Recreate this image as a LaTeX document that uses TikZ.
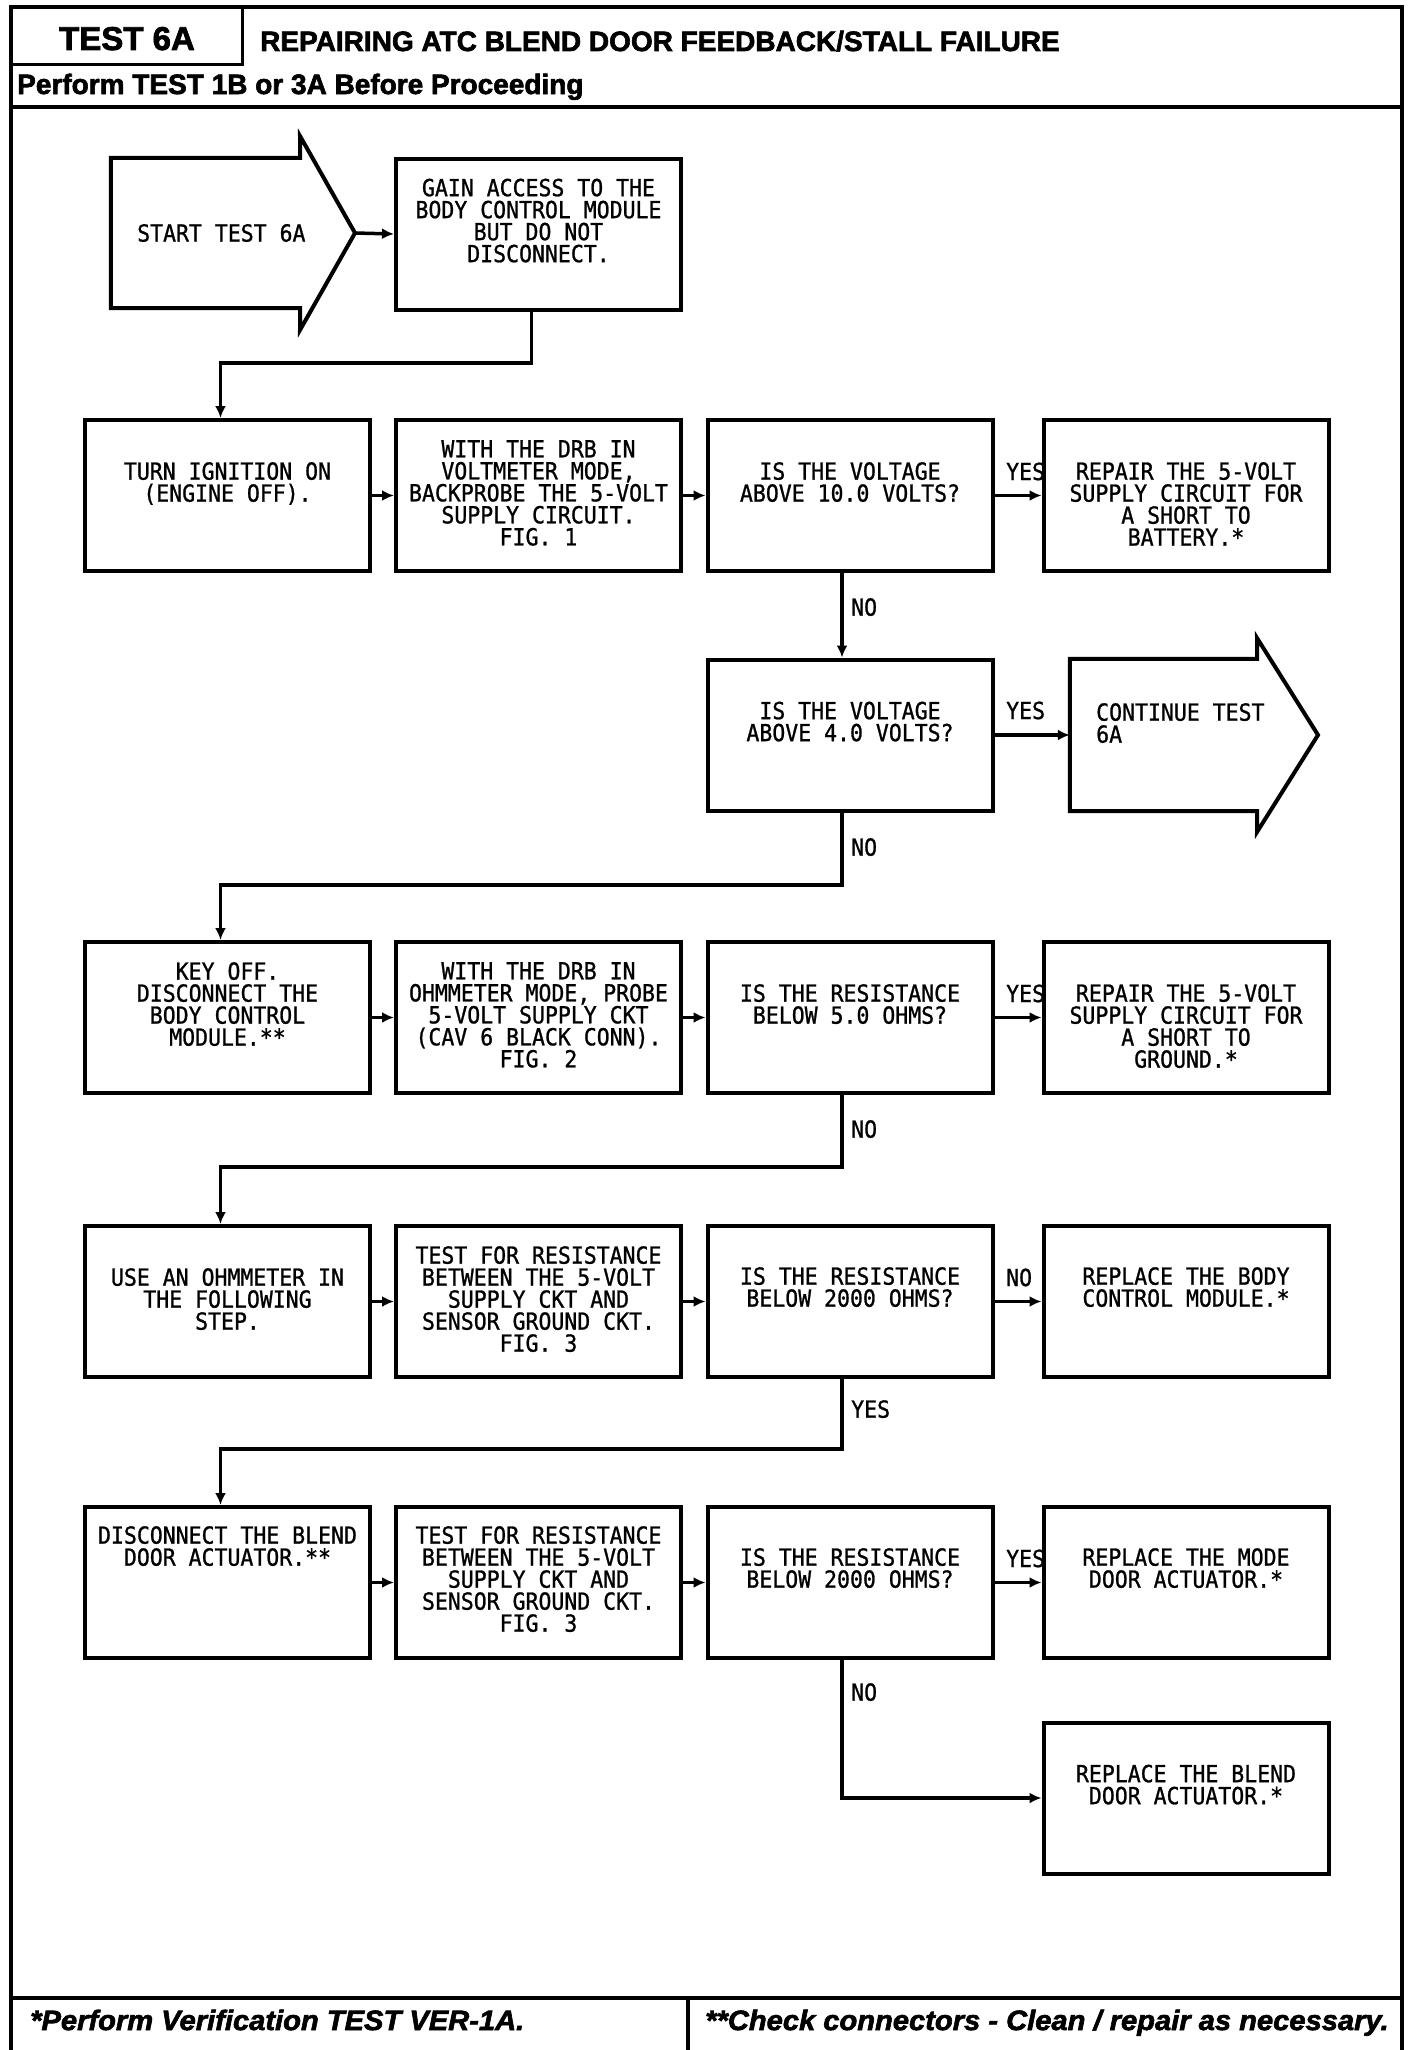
\documentclass[tikz,border=0pt]{standalone}
\usepackage{fontspec}
\usepackage{graphicx}
\usetikzlibrary{arrows.meta}
\newfontfamily\boxfont[FakeStretch=0.915,FakeBold=1]{DejaVu Sans Mono}
\newfontfamily\hdrfont[FakeStretch=1.0,FakeBold=2.2]{Liberation Sans}
\newfontfamily\ftrfont[FakeStretch=1.04,FakeBold=2.2]{Liberation Sans}
\newcommand\bxf{\boxfont\fontsize{23.5}{22}\selectfont}
\newcommand\hdf{\hdrfont\bfseries\fontsize{28}{32}\selectfont}
\newcommand\ftf{\ftrfont\bfseries\itshape\fontsize{28}{32}\selectfont}
\tikzset{
  box/.style={draw, line width=4pt, minimum width=285pt, minimum height=151pt, inner sep=0pt},
  body/.style={inner sep=0pt},
  txt/.style={font=\bxf, align=center, inner sep=0pt, anchor=north},
  lbl/.style={font=\bxf, inner sep=0pt},
  hdr/.style={font=\hdf, inner sep=0pt},
  ftr/.style={font=\ftf, inner sep=0pt},
  conn/.style={line width=3.5pt, -{Latex[length=12pt,width=11pt]}},
  shapeline/.style={line width=4pt, line join=miter},
  frameline/.style={line width=3.5pt}
}
\begin{document}
\begin{tikzpicture}[x=1pt,y=-1pt]
\useasboundingbox (0,0) rectangle (1424,2050);
% frame
\draw[frameline] (11,2052) -- (11,7) -- (1402,7) -- (1402,2052);
\draw[line width=3pt] (11,65) -- (242,65) -- (242,7);
\draw[line width=4.5pt] (11,107) -- (1402,107);
\draw[line width=4.5pt] (11,1998) -- (1402,1998);
\draw[frameline] (688,1998) -- (688,2052);
% header / footer texts
\node[hdr, anchor=base] (t6a) at (127,50) {\fontsize{33}{36}\selectfont TEST 6A};
\node[hdr, anchor=base west] (ttl) at (260,51) {REPAIRING ATC BLEND DOOR FEEDBACK/STALL FAILURE};
\node[hdr, anchor=base west] (pre) at (17,94) {Perform TEST 1B or 3A Before Proceeding};
\node[ftr, anchor=base west] (f1) at (30,2030) {*Perform Verification TEST VER-1A.};
\node[ftr, anchor=base west] (f2) at (705,2030) {**Check connectors - Clean / repair as necessary.};

% start arrow
\node[body, minimum width=189pt, minimum height=150pt] (start) at (205.5,233) {};
\coordinate (stip) at (355,233);
\draw[shapeline] (start.north west) -- (start.north east) -- (300,136) -- (stip) -- (300,330) -- (start.south east) -- (start.south west) -- cycle;
\node[lbl, anchor=west] (starttxt) at (137,233) {START TEST 6A};

% row 1
\node[box] (gain) at (538.5,234) {};
\node[txt] at ([yshift=-22pt]gain.north) {GAIN ACCESS TO THE\\BODY CONTROL MODULE\\BUT DO NOT\\DISCONNECT.};

% row 2
\node[box] (a2) at (227.5,495.5) {};
\node[box] (b2) at (538.5,495.5) {};
\node[box] (c2) at (850,495.5) {};
\node[box] (d2) at (1186,495.5) {};
\node[txt] at ([yshift=-44pt]a2.north) {TURN IGNITION ON\\(ENGINE OFF).};
\node[txt] at ([yshift=-22pt]b2.north) {WITH THE DRB IN\\VOLTMETER MODE,\\BACKPROBE THE 5-VOLT\\SUPPLY CIRCUIT.\\FIG. 1};
\node[txt] at ([yshift=-44pt]c2.north) {IS THE VOLTAGE\\ABOVE 10.0 VOLTS?};
\node[txt] at ([yshift=-44pt]d2.north) {REPAIR THE 5-VOLT\\SUPPLY CIRCUIT FOR\\A SHORT TO\\BATTERY.*};

% row 3
\node[box] (c3) at (850,735) {};
\node[txt] at ([yshift=-44pt]c3.north) {IS THE VOLTAGE\\ABOVE 4.0 VOLTS?};
\node[body, minimum width=187pt, minimum height=152pt] (cont) at (1163.5,735) {};
\coordinate (ctip) at (1318,735);
\draw[shapeline] (cont.north west) -- (cont.north east) -- (1257,638) -- (ctip) -- (1257,832) -- (cont.south east) -- (cont.south west) -- cycle;
\node[txt, anchor=north west, align=left] at (1096,703) {CONTINUE TEST\\6A};

% row 4
\node[box] (a4) at (227.5,1017.5) {};
\node[box] (b4) at (538.5,1017.5) {};
\node[box] (c4) at (850,1017.5) {};
\node[box] (d4) at (1186,1017.5) {};
\node[txt] at ([yshift=-22pt]a4.north) {KEY OFF.\\DISCONNECT THE\\BODY CONTROL\\MODULE.**};
\node[txt] at ([yshift=-22pt]b4.north) {WITH THE DRB IN\\OHMMETER MODE, PROBE\\5-VOLT SUPPLY CKT\\(CAV 6 BLACK CONN).\\FIG. 2};
\node[txt] at ([yshift=-44pt]c4.north) {IS THE RESISTANCE\\BELOW 5.0 OHMS?};
\node[txt] at ([yshift=-44pt]d4.north) {REPAIR THE 5-VOLT\\SUPPLY CIRCUIT FOR\\A SHORT TO\\GROUND.*};

% row 5
\node[box] (a5) at (227.5,1301.5) {};
\node[box] (b5) at (538.5,1301.5) {};
\node[box] (c5) at (850,1301.5) {};
\node[box] (d5) at (1186,1301.5) {};
\node[txt] at ([yshift=-44pt]a5.north) {USE AN OHMMETER IN\\THE FOLLOWING\\STEP.};
\node[txt] at ([yshift=-22pt]b5.north) {TEST FOR RESISTANCE\\BETWEEN THE 5-VOLT\\SUPPLY CKT AND\\SENSOR GROUND CKT.\\FIG. 3};
\node[txt] at ([yshift=-43pt]c5.north) {IS THE RESISTANCE\\BELOW 2000 OHMS?};
\node[txt] at ([yshift=-43pt]d5.north) {REPLACE THE BODY\\CONTROL MODULE.*};

% row 6
\node[box] (a6) at (227.5,1582.5) {};
\node[box] (b6) at (538.5,1582.5) {};
\node[box] (c6) at (850,1582.5) {};
\node[box] (d6) at (1186,1582.5) {};
\node[txt] at ([yshift=-21pt]a6.north) {DISCONNECT THE BLEND\\DOOR ACTUATOR.**};
\node[txt] at ([yshift=-21pt]b6.north) {TEST FOR RESISTANCE\\BETWEEN THE 5-VOLT\\SUPPLY CKT AND\\SENSOR GROUND CKT.\\FIG. 3};
\node[txt] at ([yshift=-43pt]c6.north) {IS THE RESISTANCE\\BELOW 2000 OHMS?};
\node[txt] at ([yshift=-43pt]d6.north) {REPLACE THE MODE\\DOOR ACTUATOR.*};

% row 7
\node[box] (d7) at (1186,1798) {};
\node[txt] at ([yshift=-44pt]d7.north) {REPLACE THE BLEND\\DOOR ACTUATOR.*};

% connectors
\draw[conn] (stip) -- (gain.west);
\draw[conn] ([xshift=-7pt]gain.south) |- ([xshift=-7pt,yshift=55pt]a2.north) -- ([xshift=-7pt]a2.north);
\draw[conn] (a2) -- (b2);
\draw[conn] (b2) -- (c2);
\draw[conn] (c2) -- (d2);
\draw[conn] ([xshift=-8pt]c2.south) -- ([xshift=-8pt]c3.north);
\draw[conn] (c3.east) -- (cont.west);
\draw[conn] ([xshift=-8pt]c3.south) |- ([xshift=-7pt,yshift=55pt]a4.north) -- ([xshift=-7pt]a4.north);
\draw[conn] (a4) -- (b4);
\draw[conn] (b4) -- (c4);
\draw[conn] (c4) -- (d4);
\draw[conn] ([xshift=-8pt]c4.south) |- ([xshift=-7pt,yshift=57pt]a5.north) -- ([xshift=-7pt]a5.north);
\draw[conn] (a5) -- (b5);
\draw[conn] (b5) -- (c5);
\draw[conn] (c5) -- (d5);
\draw[conn] ([xshift=-8pt]c5.south) |- ([xshift=-7pt,yshift=56pt]a6.north) -- ([xshift=-7pt]a6.north);
\draw[conn] (a6) -- (b6);
\draw[conn] (b6) -- (c6);
\draw[conn] (c6) -- (d6);
\draw[conn] ([xshift=-8pt]c6.south) |- (d7.west);

% labels
\node[lbl, anchor=base west] at (1006,480) {YES};
\node[lbl, anchor=base west] at (1006,719) {YES};
\node[lbl, anchor=base west] at (1006,1002) {YES};
\node[lbl, anchor=base west] at (1006,1286) {NO};
\node[lbl, anchor=base west] at (1006,1567) {YES};
\node[lbl, anchor=north west] at (851,598) {NO};
\node[lbl, anchor=north west] at (851,838) {NO};
\node[lbl, anchor=north west] at (851,1120) {NO};
\node[lbl, anchor=north west] at (851,1400) {YES};
\node[lbl, anchor=north west] at (851,1683) {NO};
\end{tikzpicture}
\end{document}
